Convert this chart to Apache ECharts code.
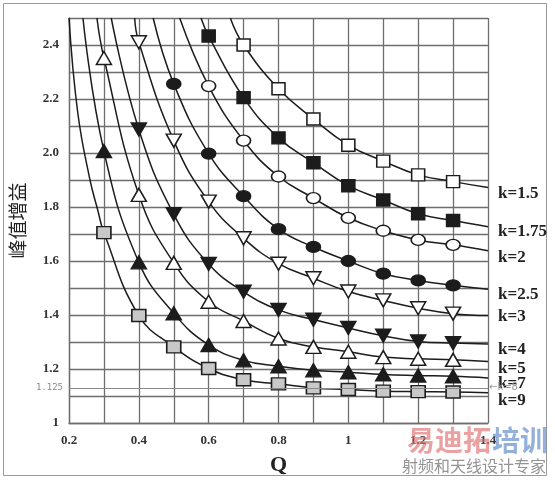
<!DOCTYPE html>
<html><head><meta charset="utf-8">
<script src="https://cdn.jsdelivr.net/npm/echarts@6/dist/echarts.min.js"></script>
<style>html,body{margin:0;padding:0;background:#fff}#c{width:555px;height:481px}</style>
</head><body><div id="c"></div>
<script>
// ---- data ----
const kLabels = ['k=1.5','k=1.75','k=2','k=2.5','k=3','k=4','k=5','k=7','k=9'];
const markerQ = [0.3,0.4,0.5,0.6,0.7,0.8,0.9,1.0,1.1,1.2,1.3];
const gK15  = [null,null,null,null,2.400,2.238,2.126,2.029,1.970,1.919,1.894];
const gK175 = [null,null,null,2.433,2.205,2.056,1.964,1.879,1.826,1.775,1.750];
const gK2   = [null,null,null,2.248,2.046,1.913,1.833,1.760,1.712,1.678,1.660];
const gK25  = [null,null,2.256,1.998,1.840,1.718,1.652,1.600,1.553,1.528,1.510];
const gK3   = [null,2.410,2.046,1.820,1.684,1.590,1.536,1.487,1.454,1.425,1.405];
const gK4   = [null,2.087,1.773,1.589,1.486,1.419,1.383,1.352,1.323,1.302,1.296];
const gK5   = [2.352,1.845,1.593,1.449,1.378,1.313,1.282,1.264,1.244,1.238,1.234];
const gK7   = [2.007,1.595,1.406,1.289,1.232,1.210,1.195,1.188,1.180,1.176,1.173];
const gK9   = [1.705,1.398,1.282,1.202,1.160,1.145,1.130,1.124,1.118,1.116,1.115];
const gains = [gK15,gK175,gK2,gK25,gK3,gK4,gK5,gK7,gK9];
// where each curve enters from the top edge (gain = 2.5)
const topGain = 2.5;
const entryQ = [0.662,0.578,0.517,0.441,0.388,0.321,0.280,0.240,0.200];
// curve value at the right edge Q = 1.4
const endQ = 1.4;
const endGain = [1.872,1.727,1.638,1.495,1.398,1.293,1.228,1.167,1.112];
// extra read points on the steep part of k=9
const k9ExtraQ = [0.225,0.259,0.283];
const k9ExtraG = [2.150,1.907,1.785];
const refGain = 1.125;
const refLabel = '1.125';
const refNote = '←k=8';
const xTickValues = [0.2,0.4,0.6,0.8,1.0,1.2,1.4];
const xTickLabels = ['0.2','0.4','0.6','0.8','1','1.2','1.4'];
const yTickValues = [1,1.2,1.4,1.6,1.8,2.0,2.2,2.4];
const yTickLabels = ['1','1.2','1.4','1.6','1.8','2.0','2.2','2.4'];
const xName = 'Q';
const yName = '峰值增益';

// ---- styles ----
const BLACK = '#1c1c1c';
const markerStyles = [
  {symbol:'rect', size:[13,12], fill:'#ffffff', rot:0},
  {symbol:'rect', size:[13,12], fill:BLACK, rot:0},
  {symbol:'circle', size:[14,11], fill:'#ffffff', rot:0},
  {symbol:'circle', size:[14,11], fill:BLACK, rot:0},
  {symbol:'triangle', size:[15,13], fill:'#ffffff', rot:180},
  {symbol:'triangle', size:[15,13], fill:BLACK, rot:180},
  {symbol:'triangle', size:[15,13], fill:'#ffffff', rot:0},
  {symbol:'triangle', size:[15,13], fill:BLACK, rot:0},
  {symbol:'rect', size:[14,12], fill:'#c8c8c8', rot:0}
];
const labelOffsets = [[0,6],[0,5],[0,7],[0,5],[0,1],[0,6],[0,7],[0,6],[0,8]];

function pickLabel(vals, labs, v){
  const i = vals.findIndex(t => Math.abs(t - v) < 1e-6);
  return i >= 0 ? labs[i] : '';
}

const series = gains.map((g, si) => {
  const data = [];
  data.push({value:[entryQ[si], topGain], symbol:'none'});
  if (si === 8) {
    k9ExtraQ.forEach((q, j) => data.push({value:[q, k9ExtraG[j]], symbol:'none'}));
  }
  markerQ.forEach((q, j) => { if (g[j] !== null) data.push({value:[q, g[j]]}); });
  data.push({value:[endQ, endGain[si]], symbol:'none'});
  const ms = markerStyles[si];
  const s = {
    type:'line', name:kLabels[si], data, smooth:0.45,
    symbol:ms.symbol, symbolSize:ms.size, symbolRotate:ms.rot, showAllSymbol:true,
    lineStyle:{color:BLACK, width:1.5},
    itemStyle:{color:ms.fill, borderColor:BLACK, borderWidth:1.5},
    clip:true, z: 3,
    endLabel:{show:true, formatter:kLabels[si], distance:10, offset:labelOffsets[si],
      fontFamily:'"Liberation Serif", serif', fontWeight:'bold', fontSize:17, color:'#222'},
    emphasis:{disabled:true}, silent:true
  };
  if (si === 8) {
    s.markLine = {
      silent:true, symbol:'none', animation:false,
      lineStyle:{color:'#8a8a8a', width:1, type:'solid'},
      data:[
        {yAxis:refGain, label:{show:true, position:'start', distance:6, formatter:refLabel,
          fontFamily:'"DejaVu Sans Mono", monospace', fontSize:9, color:'#888'}},
        {yAxis:refGain, label:{show:true, position:'end', distance:1, formatter:refNote,
          fontFamily:'"DejaVu Sans", sans-serif', fontSize:10, color:'#999'}}
      ]
    };
  }
  return s;
});

const gridColor = '#6e6e6e';
const option = {
  animation:false,
  backgroundColor:'#ffffff',
  grid:{left:68, right:67, top:18, bottom:52, containLabel:false},
  xAxis:{
    type:'value', min:0.2, max:1.4, interval:0.1,
    name:xName, nameLocation:'middle', nameGap:31,
    nameTextStyle:{fontFamily:'"Liberation Serif", serif', fontWeight:'bold', fontSize:22, color:'#222'},
    axisLine:{show:true, lineStyle:{color:gridColor, width:1.3}},
    axisTick:{show:false},
    axisLabel:{margin:11, fontFamily:'"Liberation Serif", serif', fontWeight:'bold', fontSize:13, color:'#333',
      formatter:v => pickLabel(xTickValues, xTickLabels, v)},
    splitLine:{show:true, lineStyle:{color:gridColor, width:1.3}}
  },
  yAxis:{
    type:'value', min:1, max:2.5, interval:0.1,
    name:yName, nameLocation:'middle', nameGap:42, nameRotate:90,
    nameTextStyle:{fontFamily:'"Noto Sans CJK SC", sans-serif', fontSize:19, color:'#222'},
    axisLine:{show:true, lineStyle:{color:gridColor, width:1.3}},
    axisTick:{show:false},
    axisLabel:{margin:10, fontFamily:'"Liberation Serif", serif', fontWeight:'bold', fontSize:13, color:'#333',
      formatter:v => pickLabel(yTickValues, yTickLabels, v)},
    splitLine:{show:true, lineStyle:{color:gridColor, width:1.3}}
  },
  graphic:[
    {type:'rect', z:-10, silent:true, shape:{x:3.5, y:3.5, width:543, height:472},
      style:{fill:'none', stroke:'#9a9a9a', lineWidth:1}},
    {type:'text', z:100, silent:true, left:407, top:426,
      style:{text:'易迪拓', font:'bold 28px "Noto Sans CJK SC"', fill:'rgba(225,110,110,0.65)'}},
    {type:'text', z:100, silent:true, left:492, top:426,
      style:{text:'培训', font:'bold 28px "Noto Sans CJK SC"', fill:'rgba(90,135,200,0.65)'}},
    {type:'text', z:100, silent:true, left:402, top:458,
      style:{text:'射频和天线设计专家', font:'16px "Noto Sans CJK SC"', fill:'rgba(120,120,120,0.8)'}}
  ],
  series
};
const chart = echarts.init(document.getElementById('c'), null, {renderer:'canvas'});
chart.setOption(option);
</script></body></html>
